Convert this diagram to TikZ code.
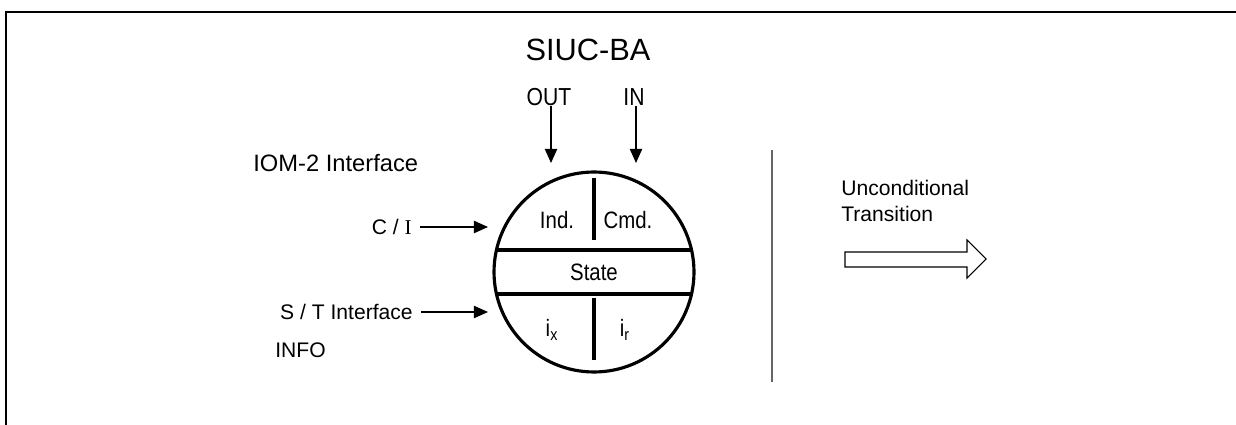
\documentclass[tikz,border=0pt]{standalone}
\usepackage{fontspec}
\setmainfont{Liberation Sans}
\newfontfamily\serifI{Liberation Serif}
\newfontfamily\narrowfont[FakeStretch=0.86]{Liberation Sans}
\usetikzlibrary{arrows.meta, positioning, calc}

\begin{document}
\begin{tikzpicture}[x=0.02cm, y=-0.02cm,
      lbl/.style={inner sep=0pt, font=\fontsize{12}{15}\selectfont},
      inlbl/.style={inner sep=0pt, font=\narrowfont\fontsize{13.5}{15}\selectfont},
      sig/.style={line width=0.7pt, -{Triangle[length=8pt, width=7pt]}},
      bar/.style={line width=2.4pt},
    ]
      \useasboundingbox (0,0) rectangle (1236,425);
      % outer frame
      \draw[line width=1.5pt] (6,440) -- (6,12) -- (1250,12);

      % state circle
      \node[circle, draw, line width=1.8pt, minimum size=4cm, inner sep=0pt] (fsm) at (594,272) {};
      \draw[bar] (496.5,250) -- (691.5,250);
      \draw[bar] (496.5,294) -- (691.5,294);
      \draw[bar] (594,178) -- (594,240);
      \draw[bar] (594,298) -- (594,360);
      \node[inlbl] (ind) at (557,220) {Ind.};
      \node[inlbl] (cmd) at (628,220) {Cmd.};
      \node[inlbl] (state) at (594,272) {State};
      \node[inlbl] (ix) at (552,330) {i\textsubscript{x}};
      \node[inlbl] (ir) at (625,330) {i\textsubscript{r}};

      % title and primitives
      \node[inner sep=0pt, font=\fontsize{17.5}{20}\selectfont] (title) at (588,50) {SIUC-BA};
      \node[inlbl, font=\narrowfont\fontsize{14}{16}\selectfont] (out) at (549,97) {OUT};
      \node[inlbl, font=\narrowfont\fontsize{14}{16}\selectfont] (in) at (634,97) {IN};
      \coordinate (outend) at (551,163);
      \coordinate (inend) at (636,163);
      \draw[sig] (out.south -| outend) -- (outend);
      \draw[sig] (in.south -| inend) -- (inend);

      % left side
      \node[lbl, anchor=west, font=\fontsize{13.5}{16}\selectfont] (iom) at (253,163) {IOM-2 Interface};
      \node[lbl, anchor=east] (ci) at (412,227) {C / {\serifI I}};
      \node[lbl, anchor=east] (st) at (413,312) {S / T Interface};
      \node[lbl, anchor=west] (info) at (275,350) {INFO};
      \coordinate (ciend) at (488,227);
      \coordinate (stend) at (488,312);
      \draw[sig] ($(ci.east)+(8,0)$) -- (ciend);
      \draw[sig] ($(st.east)+(8,0)$) -- (stend);

      % divider
      \draw[line width=0.8pt, black!60] (772,150) -- (772,382);

      % legend
      \node[lbl, anchor=west, align=left] (uncond) at (841,201) {Unconditional\\Transition};
      \draw[line width=0.6pt] (845,252) -- (967,252) -- (967,240) -- (986,259)
        -- (967,278) -- (967,267) -- (845,267) -- cycle;
    \end{tikzpicture}
\end{document}
